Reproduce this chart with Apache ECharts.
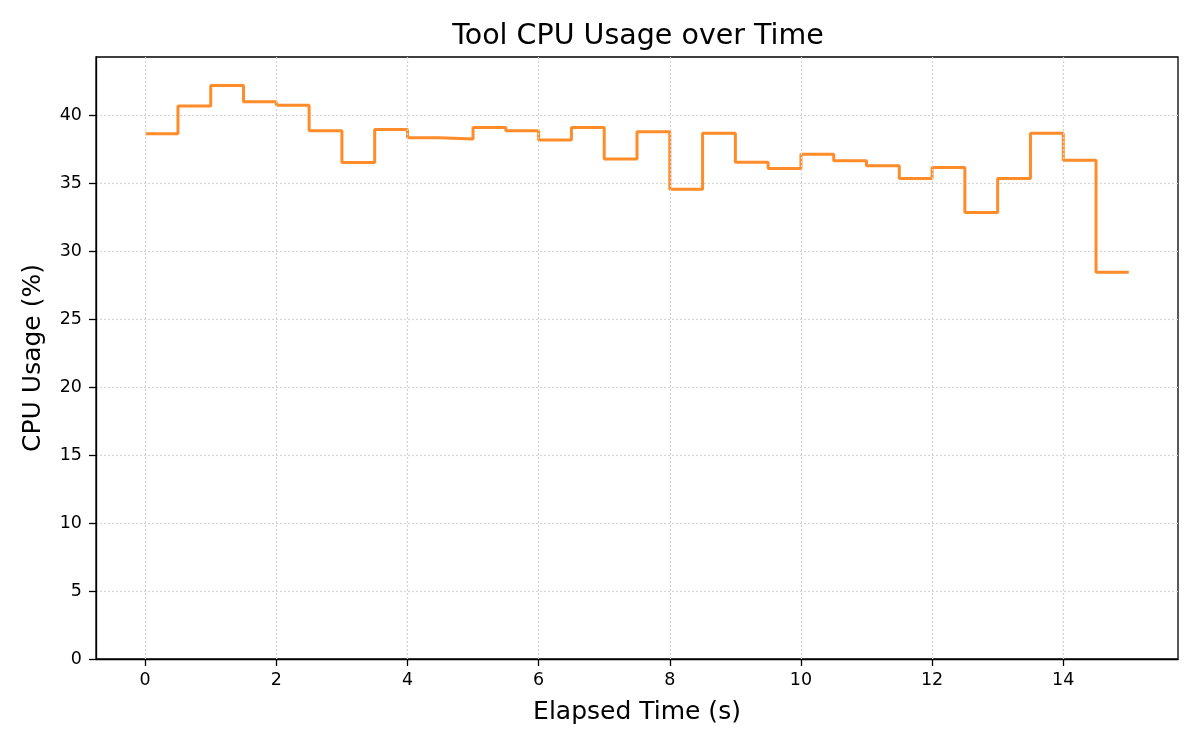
<!DOCTYPE html>
<html lang="en">
<head>
    <meta charset="UTF-8">
    <title>Tool CPU Usage over Time</title>
    <script src="https://cdn.jsdelivr.net/npm/echarts@6/dist/echarts.min.js"></script>
    <style>
        html, body { margin: 0; padding: 0; background: #fff; }
    </style>
</head>
<body>
    <div id="main" style="width: 1200px;height:750px;"></div>
    <script type="text/javascript">
        // elapsed time (s) and cpu usage (%)
        var times = [0, 0.5, 1, 1.5, 2, 2.5, 3, 3.5, 4, 4.5, 5, 5.5, 6, 6.5, 7, 7.5,
                     8, 8.5, 9, 9.5, 10, 10.5, 11, 11.5, 12, 12.5, 13, 13.5, 14, 14.5, 15];
        var cpuUsage = [38.65, 40.7, 42.2, 41.0, 40.75, 38.87, 36.53, 38.97, 38.36, 38.26,
                        39.12, 38.87, 38.2, 39.12, 36.8, 38.8, 34.57, 38.68, 36.55, 36.09,
                        37.14, 36.67, 36.3, 35.35, 36.16, 32.86, 35.35, 38.68, 36.7, 28.46, 28.46];
        var xTicks = [0, 2, 4, 6, 8, 10, 12, 14];
        var yTicks = [0, 5, 10, 15, 20, 25, 30, 35, 40];

        var font = 'DejaVu Sans';
        var gridColor = '#d4d4d4';

        var myChart = echarts.init(document.getElementById('main'));

        var option = {
            animation: false,
            backgroundColor: '#ffffff',
            title: {
                text: 'Tool CPU Usage over Time',
                left: 633,
                top: 17,
                textAlign: 'center',
                textStyle: { fontFamily: font, fontSize: 28.5, fontWeight: 'normal', color: '#000' }
            },
            grid: {
                left: 96, right: 22, top: 57, bottom: 91,
                show: true,
                borderColor: '#000',
                borderWidth: 1.3
            },
            xAxis: {
                type: 'value',
                min: -0.75,
                max: 15.75,
                name: 'Elapsed Time (s)',
                nameLocation: 'middle',
                nameGap: 41,
                nameTextStyle: { fontFamily: font, fontSize: 25, color: '#000' },
                axisLine: { onZero: false, lineStyle: { color: '#000', width: 1.3 } },
                axisTick: { show: true, length: 7, customValues: xTicks, lineStyle: { color: '#000', width: 1.3 } },
                axisLabel: { customValues: xTicks, margin: 12, fontFamily: font, fontSize: 17.5, color: '#000' },
                splitLine: { show: false }
            },
            yAxis: {
                type: 'value',
                min: 0,
                max: 44.3,
                interval: 5,
                name: 'CPU Usage (%)',
                nameLocation: 'middle',
                nameGap: 50,
                nameTextStyle: { fontFamily: font, fontSize: 25, color: '#000' },
                axisLine: { show: true, onZero: false, lineStyle: { color: '#000', width: 1.3 } },
                axisTick: { show: true, length: 7, customValues: yTicks, lineStyle: { color: '#000', width: 1.3 } },
                axisLabel: { customValues: yTicks, margin: 14, fontFamily: font, fontSize: 17.5, color: '#000' },
                splitLine: { show: true, lineStyle: { color: gridColor, width: 1.2, type: [2, 2] } }
            },
            series: [
                {
                    // vertical grid lines at the x ticks
                    type: 'line',
                    data: [],
                    z: 1,
                    silent: true,
                    markLine: {
                        silent: true,
                        symbol: ['none', 'none'],
                        label: { show: false },
                        lineStyle: { color: gridColor, width: 1.2, type: [2, 2] },
                        data: xTicks.map(function (t) { return { xAxis: t }; })
                    }
                },
                {
                    name: 'CPU',
                    type: 'line',
                    step: 'end',
                    z: 3,
                    showSymbol: false,
                    symbol: 'none',
                    lineStyle: { color: '#ff8c28', width: 3 },
                    data: times.map(function (t, i) { return [t, cpuUsage[i]]; })
                }
            ]
        };
        myChart.setOption(option);
    </script>
</body>
</html>
